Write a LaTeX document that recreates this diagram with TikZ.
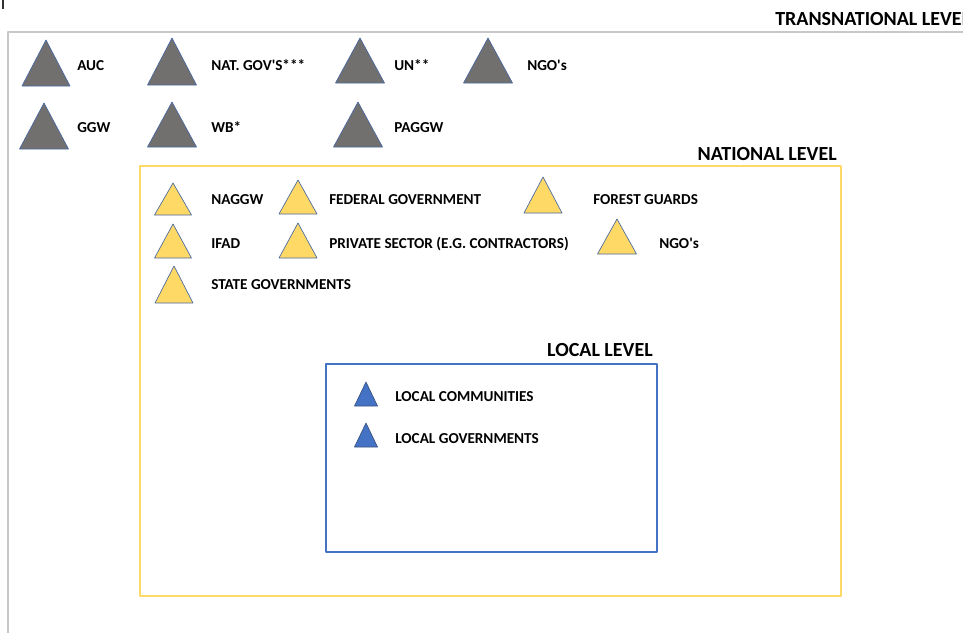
\documentclass[tikz,border=0pt]{standalone}
\usepackage{fontspec}
\setmainfont{Carlito}
\definecolor{transline}{RGB}{200,200,200}
\definecolor{transfill}{RGB}{114,111,111}
\definecolor{natyellow}{RGB}{255,217,102}
\definecolor{locblue}{RGB}{68,114,196}
\definecolor{triedge}{RGB}{72,104,160}
\tikzset{
    levelname/.style={font=\bfseries\fontsize{15}{17}\selectfont, inner sep=0pt},
    actor/.style={font=\bfseries\fontsize{11.4}{13}\selectfont, anchor=base west, inner sep=0pt},
    transtri/.style={fill=transfill, draw=triedge, line width=0.5pt},
    nattri/.style={fill=natyellow, draw=triedge, line width=0.5pt},
    loctri/.style={fill=locblue, draw=triedge!80!black, line width=0.5pt},
}
% triangle: [style] apex x, apex y, half base, height (pixel units)
\newcommand{\agent}[5][]{\filldraw[#1] (#2,#3) -- ++(-#4,#5) -- ++({2*#4},0) -- cycle;}
\begin{document}
\begin{tikzpicture}[x=0.75pt, y=-0.75pt, line join=round]
    \useasboundingbox (0,0) rectangle (963,632);
    \clip (0,0) rectangle (963,632);
    \draw[black!80, line width=0.8pt] (3,0) -- (3,9);
    % transnational level
    \draw[transline, line width=1.6pt] (8,660) -- (8,32) -- (990,32);
    \node[levelname, anchor=base west] (trans) at (775,25) {TRANSNATIONAL LEVEL};
    \agent[transtri]{46}{40}{24}{46}
    \agent[transtri]{172}{38}{24.5}{47}
    \agent[transtri]{360}{38}{24.5}{45}
    \agent[transtri]{488}{38}{24.5}{45}
    \agent[transtri]{44}{103}{24.5}{46}
    \agent[transtri]{172}{102}{24.5}{45}
    \agent[transtri]{358}{102}{24.5}{45}
    \node[actor] (auc) at (77,70) {AUC};
    \node[actor] (natgov) at (211,70) {NAT. GOV\textquotesingle S***};
    \node[actor] (un) at (394,70) {UN**};
    \node[actor] (ngot) at (527,70) {NGO\textquotesingle s};
    \node[actor] (ggw) at (77,132) {GGW};
    \node[actor] (wb) at (211,132) {WB*};
    \node[actor] (paggw) at (394,132) {PAGGW};
    % national level
    \draw[natyellow, line width=1.8pt] (140,166) rectangle (841,596);
    \node[levelname, anchor=base east] (nat) at (837,160) {NATIONAL LEVEL};
    \agent[nattri]{173}{183}{18.5}{32}
    \agent[nattri]{298}{180}{19}{34}
    \agent[nattri]{543}{177}{19}{36}
    \agent[nattri]{173}{224}{18.5}{34}
    \agent[nattri]{298}{223}{19}{35}
    \agent[nattri]{617}{219}{19.5}{35}
    \agent[nattri]{174}{266}{19}{37}
    \node[actor] (naggw) at (211,204) {NAGGW};
    \node[actor] (fedgov) at (329,204) {FEDERAL GOVERNMENT};
    \node[actor] (forest) at (593,204) {FOREST GUARDS};
    \node[actor] (ifad) at (211,248) {IFAD};
    \node[actor] (private) at (329,248) {PRIVATE SECTOR (E.G. CONTRACTORS)};
    \node[actor] (ngon) at (659,248) {NGO\textquotesingle s};
    \node[actor] (stategov) at (211,289) {STATE GOVERNMENTS};
    % local level
    \draw[locblue, line width=1.8pt] (326,364) rectangle (657,552);
    \node[levelname, anchor=base east] (loc) at (653,356) {LOCAL LEVEL};
    \agent[loctri]{366}{382}{11.5}{24}
    \agent[loctri]{366}{423}{11.5}{24}
    \node[actor] (community) at (395,401) {LOCAL COMMUNITIES};
    \node[actor] (localgov) at (395,443) {LOCAL GOVERNMENTS};
\end{tikzpicture}
\end{document}
